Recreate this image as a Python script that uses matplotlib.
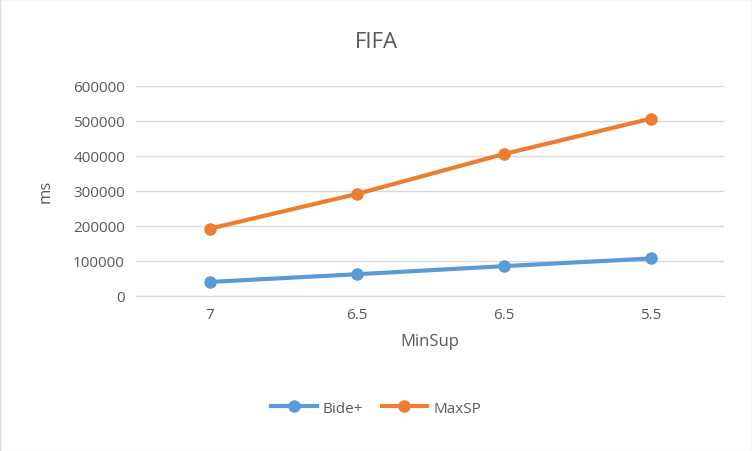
import matplotlib.pyplot as plt
from matplotlib.patches import Rectangle

categories = ['7', '6.5', '6.5', '5.5']
bide = [40000, 62000, 85000, 107000]
maxsp = [192000, 291000, 405000, 506000]

plt.rcParams['font.family'] = ['Open Sans', 'DejaVu Sans']
txt = '#595959'

fig = plt.figure(figsize=(7.52, 4.52), dpi=100)
ax = fig.add_axes([0.181, 0.343, 0.782, 0.465])
x = range(len(categories))
ax.plot(x, bide, color='#5B9BD5', lw=3, marker='o', ms=8, label='Bide+')
ax.plot(x, maxsp, color='#ED7D31', lw=3, marker='o', ms=8, label='MaxSP')

ax.set_xlim(-0.5, len(categories) - 0.5)
ax.set_ylim(0, 600000)
ax.set_yticks(range(0, 600001, 100000))
ax.set_xticks(list(x))
ax.set_xticklabels(categories)
ax.grid(axis='y', color='#D9D9D9', lw=1)
ax.set_axisbelow(True)
for s in ['top', 'right', 'left']:
    ax.spines[s].set_visible(False)
ax.spines['bottom'].set_color('#D9D9D9')
ax.tick_params(length=0, colors=txt, labelsize=11, pad=8)
ax.set_xlabel('MinSup', color=txt, fontsize=12, labelpad=8)
ax.set_ylabel('ms', color=txt, fontsize=12, labelpad=14)
fig.text(0.5, 0.905, 'FIFA', ha='center', va='center', color=txt, fontsize=16)
fig.legend(loc='center', bbox_to_anchor=(0.5, 0.095), ncol=2, frameon=False,
           fontsize=11, labelcolor=txt, handlelength=3, handletextpad=0.4,
           columnspacing=1.2)
fig.patches.append(Rectangle((0, 0), 1, 1, transform=fig.transFigure,
                             fill=False, edgecolor='#D9D9D9', lw=1))
fig.savefig('out.png', dpi=100)
